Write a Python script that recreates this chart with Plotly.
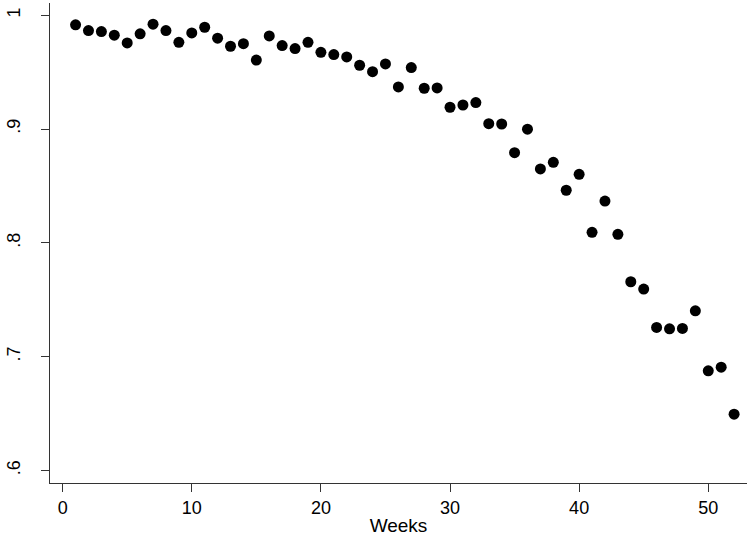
import plotly.graph_objects as go

# Weekly values
weeks = list(range(1, 53))
values = [
    0.9915, 0.9865, 0.9856, 0.9824, 0.9756, 0.9836, 0.9921, 0.9865, 0.9762, 0.9844,
    0.9894, 0.9798, 0.9727, 0.9750, 0.9606, 0.9818, 0.9733, 0.9707, 0.9762, 0.9674,
    0.9654, 0.9633, 0.9560, 0.9504, 0.9572, 0.9370, 0.9540, 0.9358, 0.9361, 0.9191,
    0.9211, 0.9232, 0.9047, 0.9044, 0.8792, 0.8998, 0.8649, 0.8707, 0.8462, 0.8602,
    0.8092, 0.8367, 0.8075, 0.7658, 0.7594, 0.7257, 0.7245, 0.7248, 0.7403, 0.6876,
    0.6908, 0.6495,
]
y_ticks = [0.6, 0.7, 0.8, 0.9, 1.0]
y_ticktext = ['.6', '.7', '.8', '.9', '1']
x_ticks = [0, 10, 20, 30, 40, 50]

_FAMILY = 'Liberation Sans, Arial, sans-serif'
_LINE = '#333'

fig = go.Figure(go.Scatter(
    x=weeks, y=values,
    mode='markers',
    marker=dict(size=11, color='#000', line=dict(width=0)),
    showlegend=False,
))

fig.update_layout(
    width=750, height=536,
    margin=dict(l=50, r=3, t=3, b=53, autoexpand=False),
    paper_bgcolor='#fff',
    plot_bgcolor='#fff',
    font=dict(family=_FAMILY, size=18, color='#000'),
    xaxis=dict(
        range=[-0.98, 53.0],
        tickvals=x_ticks,
        automargin=False,
        showgrid=False, zeroline=False,
        showline=True, linecolor=_LINE, linewidth=1,
        ticks='outside', ticklen=8, tickcolor=_LINE,
        title=dict(text='Weeks', standoff=2, font=dict(size=19)),
    ),
    yaxis=dict(
        range=[0.589, 1.0107],
        tickvals=y_ticks, ticktext=y_ticktext,
        tickangle=-90,
        ticklabelstandoff=14,
        automargin=False,
        showgrid=False, zeroline=False,
        showline=True, linecolor=_LINE, linewidth=1,
        ticks='outside', ticklen=8, tickcolor=_LINE,
    ),
)

# drop the browser's default body margin so the figure sits at (0, 0)
fig.write_html('out.html', config={'displayModeBar': False},
               post_script="document.body.style.margin='0';")
